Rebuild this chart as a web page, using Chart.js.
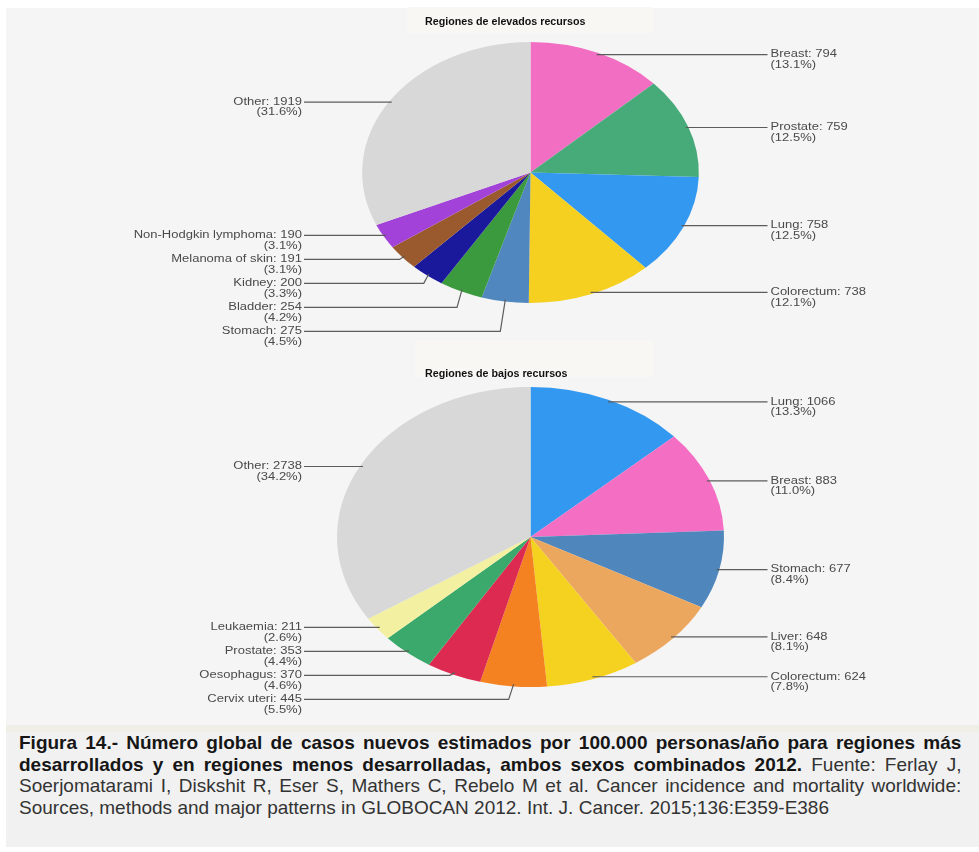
<!DOCTYPE html>
<html>
<head>
<meta charset="utf-8">
<script src="https://cdn.jsdelivr.net/npm/chart.js@4/dist/chart.umd.min.js"></script>
<style>
  html, body { margin:0; padding:0; background:#ffffff; width:979px; height:852px; overflow:hidden; }
  #bg { position:absolute; left:6px; top:8px; width:973px; height:717px; background:#f5f5f5; }
  #band { position:absolute; left:6px; top:725px; width:973px; height:7px; background:#efeee7; }
  #capbg { position:absolute; left:6px; top:732px; width:973px; height:115px; background:#f1f1f1; }
  .tbox { position:absolute; background:#f8f7f3; }
  .ttl { position:absolute; font: bold 10.7px "Liberation Sans", Arial, sans-serif; color:#111; white-space:nowrap; line-height:12px; }
  canvas { position:absolute; left:0; }
  #cap { position:absolute; left:19px; top:732px; transform-origin:0 0; font-family:"Liberation Sans", Arial, sans-serif; font-size:18.6px; line-height:21.7px; color:#333; }
  #cap div { white-space:nowrap; }
  #cap b { color:#161616; }
</style>
</head>
<body>
<div id="bg"></div>
<div id="band"></div>
<div id="capbg"></div>
<div class="tbox" style="left:407px;top:7px;width:246px;height:26px;"></div>
<div class="tbox" style="left:415px;top:340px;width:238px;height:37px;"></div>
<canvas id="c1" width="979" height="360" style="top:0px;"></canvas>
<canvas id="c2" width="979" height="365" style="top:360px;"></canvas>
<div class="ttl" id="t1" style="left:425px;top:15px;">Regiones de elevados recursos</div>
<div class="ttl" id="t2" style="left:425px;top:367px;">Regiones de bajos recursos</div>
<div id="cap">
  <div class="j"><b>Figura 14.- Número global de casos nuevos estimados por 100.000 personas/año para regiones más</b></div>
  <div class="j"><b>desarrollados y en regiones menos desarrolladas, ambos sexos combinados 2012.</b> Fuente: Ferlay J,</div>
  <div class="j">Soerjomatarami I, Diskshit R, Eser S, Mathers C, Rebelo M et al. Cancer incidence and mortality worldwide:</div>
  <div id="l4"><span id="l4s">Sources, methods and major patterns in GLOBOCAN 2012. Int. J. Cancer. 2015;136:E359-E386</span></div>
</div>
<script>
// ---- Data: high-resource regions ----
const highLabels = ['Breast','Prostate','Lung','Colorectum','Stomach','Bladder','Kidney','Melanoma of skin','Non-Hodgkin lymphoma','Other'];
const highValues = [794, 759, 758, 738, 275, 254, 200, 191, 190, 1919];
const highPercents = ['13.1','12.5','12.5','12.1','4.5','4.2','3.3','3.1','3.1','31.6'];
const highColors = ['#f26ec2','#47ab79','#3398f0','#f5d020','#4f87be','#3b9a3e','#1a189b','#9b5a2e','#a242d8','#d8d8d8'];

// ---- Data: low-resource regions ----
const lowLabels = ['Lung','Breast','Stomach','Liver','Colorectum','Cervix uteri','Oesophagus','Prostate','Leukaemia','Other'];
const lowValues = [1066, 883, 677, 648, 624, 445, 370, 353, 211, 2738];
const lowPercents = ['13.3','11.0','8.4','8.1','7.8','5.5','4.6','4.4','2.6','34.2'];
const lowColors = ['#3398f0','#f46fc4','#4f87bd','#eca75f','#f5d21f','#f58221','#dc2a50','#3aa96b','#f3f0a2','#d8d8d8'];

const STRETCH = 1.29;      // pies are drawn as horizontally stretched ellipses
const TEXT_STRETCH = 1.3;  // label text is stretched the same way
const LABEL_GAP = 24;

function drawStretchedText(ctx, text, x, y, align) {
  ctx.save();
  ctx.translate(x, y);
  ctx.scale(TEXT_STRETCH, 1);
  ctx.textAlign = align;
  ctx.fillText(text, 0, 0);
  ctx.restore();
}

function makePiePlugin(names, values, pcts) {
  return {
    id: 'ellipsePie',
    beforeDatasetsDraw(chart) {
      const arc = chart.getDatasetMeta(0).data[0];
      const ctx = chart.ctx;
      ctx.save();
      ctx.translate(arc.x, 0);
      ctx.scale(STRETCH, 1);
      ctx.translate(-arc.x, 0);
    },
    afterDatasetsDraw(chart) {
      const ctx = chart.ctx;
      ctx.restore();
      const arcs = chart.getDatasetMeta(0).data;
      const cx = arcs[0].x;
      const items = arcs.map((a, i) => {
        const mid = (a.startAngle + a.endAngle) / 2;
        const r = a.outerRadius * 0.985;
        return { i, ax: cx + STRETCH * r * Math.cos(mid), ay: a.y + r * Math.sin(mid), right: Math.cos(mid) >= 0 };
      });
      [true, false].forEach(side => {
        const list = items.filter(o => o.right === side).sort((p, q) => p.ay - q.ay);
        let prev = -Infinity;
        list.forEach(o => { o.ly = Math.max(o.ay, prev + LABEL_GAP); prev = o.ly; });
      });
      ctx.save();
      ctx.strokeStyle = '#5c5c5c';
      ctx.lineWidth = 1.2;
      ctx.fillStyle = '#4a4a4a';
      ctx.font = '10px "Liberation Sans", Arial, sans-serif';
      ctx.textBaseline = 'middle';
      items.forEach(o => {
        const endX = o.right ? cx + 237 : cx - 226.5;
        const elbowX = o.ax + (o.right ? 5 : -5);
        ctx.beginPath();
        ctx.moveTo(o.ax, o.ay);
        if (Math.abs(o.ly - o.ay) > 0.5) ctx.lineTo(elbowX, o.ly);
        ctx.lineTo(endX, o.ly);
        ctx.stroke();
        const tx = o.right ? cx + 240 : cx - 228.5;
        const align = o.right ? 'left' : 'right';
        drawStretchedText(ctx, names[o.i] + ': ' + values[o.i], tx, o.ly, align);
        drawStretchedText(ctx, '(' + pcts[o.i] + '%)', tx, o.ly + 10.5, align);
      });
      ctx.restore();
    }
  };
}

function makePie(canvasId, labels, values, colors, pcts, padding) {
  return new Chart(document.getElementById(canvasId), {
    type: 'pie',
    data: {
      labels: labels,
      datasets: [{ data: values, backgroundColor: colors, borderWidth: 0, hoverOffset: 0, offset: 0 }]
    },
    options: {
      responsive: false,
      animation: false,
      events: [],
      layout: { padding: padding },
      plugins: { legend: { display: false }, tooltip: { enabled: false }, title: { display: false } }
    },
    plugins: [makePiePlugin(labels, values, pcts)]
  });
}

makePie('c1', highLabels, highValues, highColors, highPercents, { left: 400, right: 318, top: 42, bottom: 57 });
makePie('c2', lowLabels, lowValues, lowColors, lowPercents, { left: 380.5, right: 298.5, top: 27, bottom: 38 });

// ---- caption: fit last line, justify the others ----
(function () {
  const cap = document.getElementById('cap');
  const w4 = document.getElementById('l4s').getBoundingClientRect().width;
  const s = 810 / w4;
  cap.style.transform = 'scaleX(' + s + ')';
  const target = 962 / s;
  document.querySelectorAll('#cap .j').forEach(div => {
    const span = document.createElement('span');
    while (div.firstChild) span.appendChild(div.firstChild);
    div.appendChild(span);
    const w = span.getBoundingClientRect().width;
    const spaces = (span.textContent.match(/ /g) || []).length;
    if (spaces > 0) div.style.wordSpacing = ((target - w) / spaces) + 'px';
  });
})();
</script>
</body>
</html>
